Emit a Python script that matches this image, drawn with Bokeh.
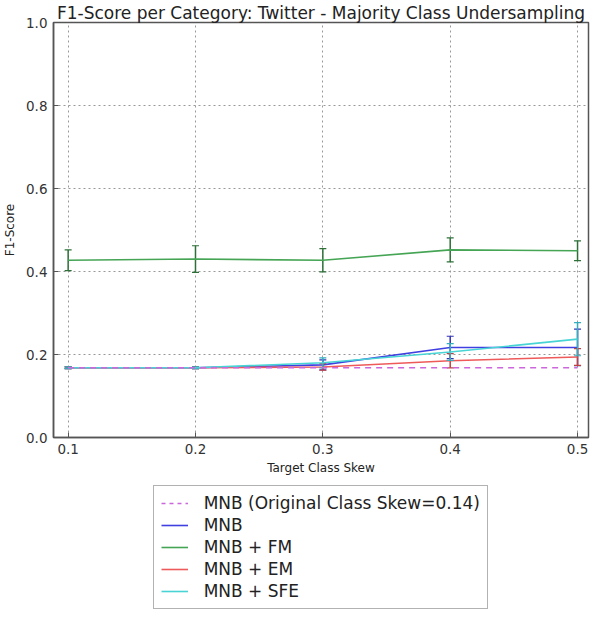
from bokeh.plotting import figure
from bokeh.layouts import column
from bokeh.models import Range1d, FixedTicker, PrintfTickFormatter, Legend, LegendItem, ColumnDataSource
from bokeh.embed import file_html
from bokeh.resources import INLINE

# ---- data ----
skew = [0.1, 0.2, 0.3, 0.4, 0.5]
baseline = [0.168, 0.168, 0.168, 0.168, 0.168]
mnb = [0.168, 0.168, 0.175, 0.217, 0.217]
mnb_err = [0.002, 0.002, 0.012, 0.027, 0.044]
fm = [0.427, 0.430, 0.427, 0.452, 0.450]
fm_err = [0.025, 0.032, 0.028, 0.029, 0.024]
em = [0.168, 0.168, 0.170, 0.185, 0.194]
em_err = [0.002, 0.002, 0.008, 0.017, 0.020]
sfe = [0.168, 0.168, 0.180, 0.206, 0.237]
sfe_err = [0.002, 0.002, 0.012, 0.020, 0.040]
x_ticks = [0.1, 0.2, 0.3, 0.4, 0.5]
y_ticks = [0.0, 0.2, 0.4, 0.6, 0.8, 1.0]
baseline_label = "MNB (Original Class Skew=0.14)"

FONT = "DejaVu Sans"

p = figure(frame_width=535, frame_height=415, output_backend="svg", toolbar_location=None,
           x_range=Range1d(0.0885, 0.5086), y_range=Range1d(0, 1),
           min_border_left=48, min_border_right=2, min_border_top=0, min_border_bottom=45,
           title="F1-Score per Category: Twitter - Majority Class Undersampling")
p.title.align = "center"
p.title.text_font = FONT
p.title.text_font_size = "17px"
p.title.text_font_style = "normal"
p.title.text_color = "#222222"
p.title.standoff = 0
p.title.offset = 0

p.outline_line_color = "#555555"
p.outline_line_width = 1.5

for ax in (p.xaxis, p.yaxis):
    ax.major_tick_in = 5
    ax.major_tick_out = 0
    ax.minor_tick_line_color = None
    ax.axis_line_color = "#555555"
    ax.axis_line_width = 1.5
    ax.major_tick_line_color = "#555555"
    ax.major_label_text_font = FONT
    ax.major_label_text_font_size = "13.5px"
    ax.major_label_text_color = "#333333"
    ax.axis_label_text_font = FONT
    ax.axis_label_text_font_size = "12px"
    ax.axis_label_text_font_style = "normal"
    ax.axis_label_text_color = "#222222"
    ax[0].formatter = PrintfTickFormatter(format="%.1f")

p.xaxis.ticker = FixedTicker(ticks=x_ticks)
p.yaxis.ticker = FixedTicker(ticks=y_ticks)
p.xaxis.axis_label = "Target Class Skew"
p.yaxis.axis_label = "F1-Score"
p.xaxis.major_label_standoff = 6
p.xaxis.axis_label_standoff = 4
p.yaxis.major_label_standoff = 6
p.yaxis.axis_label_standoff = 6

for g in (p.xgrid, p.ygrid):
    g.grid_line_color = "#999999"
    g.grid_line_dash = "2 3"
    g.grid_line_width = 1
p.xgrid.ticker = FixedTicker(ticks=x_ticks)
p.ygrid.ticker = FixedTicker(ticks=y_ticks)

series = [
    ("MNB", mnb, mnb_err, "#4040e0", "#3030b8"),
    ("MNB + FM", fm, fm_err, "#45a555", "#2e7038"),
    ("MNB + EM", em, em_err, "#ee5a5a", "#c04040"),
    ("MNB + SFE", sfe, sfe_err, "#48d4d4", "#34aebc"),
]
BASE_COL = "#cc66dd"

for name, vals, errs, col, ecol in series:
    lo = [v - e for v, e in zip(vals, errs)]
    hi = [v + e for v, e in zip(vals, errs)]
    src = ColumnDataSource(dict(x=skew, y=vals, lo=lo, hi=hi))
    p.segment(x0="x", y0="lo", x1="x", y1="hi", source=src, line_color=ecol, line_width=1.5)
    p.scatter(x="x", y="lo", source=src, marker="dash", size=7, line_color=ecol, line_width=1.2)
    p.scatter(x="x", y="hi", source=src, marker="dash", size=7, line_color=ecol, line_width=1.2)
    p.line(x="x", y="y", source=src, line_color=col, line_width=1.6)

p.line(x=skew, y=baseline, line_color=BASE_COL, line_width=1.6, line_dash="6 5")

# ---- legend panel below the chart (series drawn out of view, only legend shows) ----
lg = figure(frame_width=535, frame_height=128, output_backend="svg", toolbar_location=None,
            x_axis_type=None, y_axis_type=None,
            x_range=Range1d(0.0885, 0.5086), y_range=Range1d(5, 6),
            min_border_left=48, min_border_top=0, min_border_right=2, min_border_bottom=0)
lg.outline_line_color = None
lg.xgrid.visible = False
lg.ygrid.visible = False

items = []
r = lg.line(x=skew, y=baseline, line_color=BASE_COL, line_width=1.6, line_dash="4 4")
items.append(LegendItem(label=baseline_label, renderers=[r]))
for name, vals, errs, col, ecol in series:
    r = lg.line(x=skew, y=vals, line_color=col, line_width=1.6)
    items.append(LegendItem(label=name, renderers=[r]))

legend = Legend(items=items, location=(136, 1), orientation="vertical")
legend.label_text_font = FONT
legend.label_text_font_size = "17px"
legend.label_text_color = "#222222"
legend.label_height = 20
legend.glyph_height = 20
legend.glyph_width = 27
legend.label_standoff = 16
legend.spacing = 2
legend.padding = 7
legend.margin = 0
legend.border_line_color = "#666666"
legend.border_line_width = 1.5
lg.add_layout(legend, "center")

layout = column(p, lg, spacing=0)
open("out.html", "w").write(file_html(layout, INLINE))
